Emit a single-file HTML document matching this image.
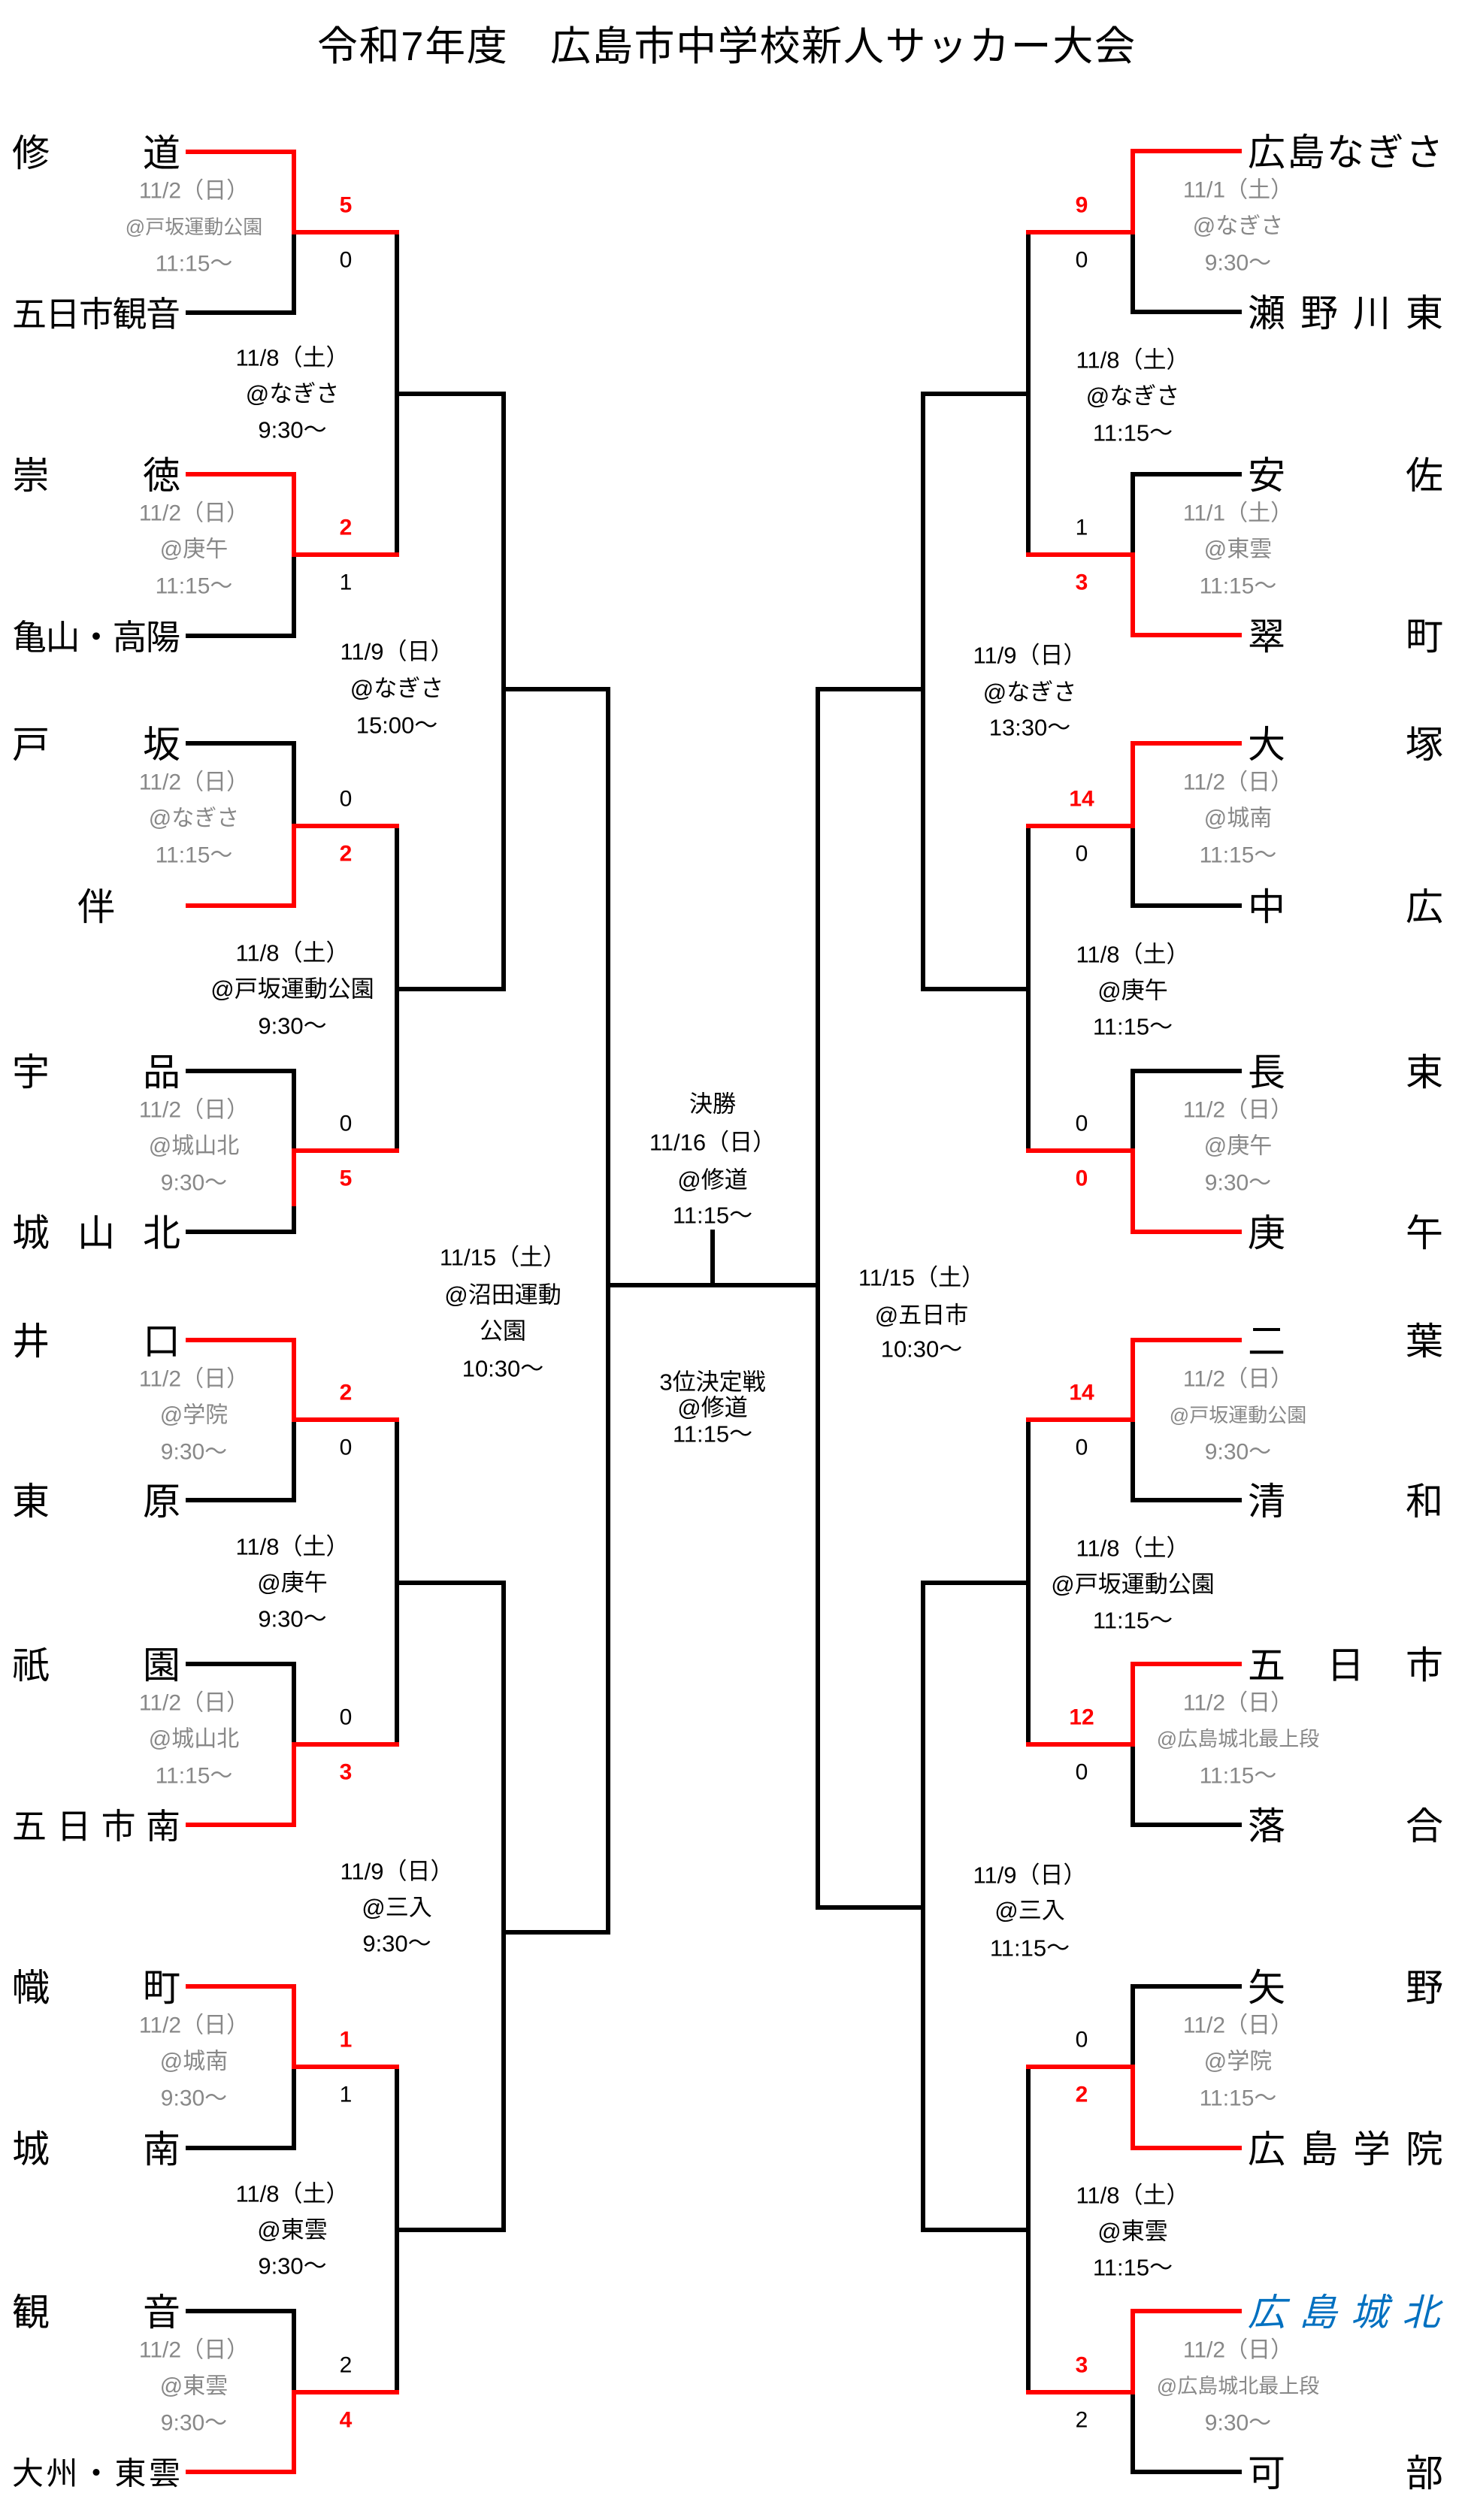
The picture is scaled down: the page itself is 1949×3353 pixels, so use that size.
<!DOCTYPE html>
<html><head><meta charset="utf-8"><style>
html,body{margin:0;padding:0;background:#fff;}
svg{display:block;}
text{font-family:"Liberation Sans","Noto Sans CJK JP",sans-serif;}
.nm{font-size:50px;fill:#000;}
.gr{font-size:30px;fill:#888;text-anchor:middle;}
.lb{font-size:31px;fill:#000;text-anchor:middle;}
.sc{font-size:30px;fill:#000;text-anchor:middle;}
.sr{font-size:30px;fill:#f00;font-weight:bold;text-anchor:middle;}
.k{stroke:#000;stroke-width:6;fill:none;stroke-linecap:square;}
.r{stroke:#f00;stroke-width:6;fill:none;stroke-linecap:square;}
</style></head><body>
<svg width="1949" height="3353" viewBox="0 0 1949 3353" xmlns="http://www.w3.org/2000/svg">
<text x="966" y="62" dominant-baseline="central" text-anchor="middle" font-size="54" textLength="1088" lengthAdjust="spacing">令和7年度　広島市中学校新人サッカー大会</text>

<g class="k">
<path d="M250 202H391V416H250M391 309H528"/>
<path d="M250 631H391V846H250M391 738H528"/>
<path d="M250 989H391V1205H250M391 1099H528"/>
<path d="M250 1425H391V1639H250M391 1531H528"/>
<path d="M250 1783H391V1996H250M391 1889H528"/>
<path d="M250 2214H391V2428H250M391 2321H528"/>
<path d="M250 2643H391V2858H250M391 2750H528"/>
<path d="M250 3075H391V3289H250M391 3183H528"/>
<path d="M528 309V738M528 524H670"/>
<path d="M528 1099V1531M528 1316H670"/>
<path d="M528 1889V2321M528 2106H670"/>
<path d="M528 2750V3183M528 2967H670"/>
<path d="M670 524V1316M670 917H809"/>
<path d="M670 2106V2967M670 2571H809"/>
<path d="M809 917V2571M809 1710H1088M948 1639V1710"/>
<path d="M1088 917V2538"/>
<path d="M1088 917H1228M1088 2538H1228"/>
<path d="M1228 524V1316M1228 2106V2967"/>
<path d="M1228 524H1368M1228 1316H1368M1228 2106H1368M1228 2967H1368"/>
<path d="M1368 309V738M1368 1099V1531M1368 1889V2321M1368 2750V3183"/>
<path d="M1649 201H1507V415H1649M1507 309H1368"/>
<path d="M1649 631H1507V845H1649M1507 738H1368"/>
<path d="M1649 989H1507V1205H1649M1507 1099H1368"/>
<path d="M1649 1425H1507V1639H1649M1507 1531H1368"/>
<path d="M1649 1783H1507V1996H1649M1507 1889H1368"/>
<path d="M1649 2214H1507V2428H1649M1507 2321H1368"/>
<path d="M1649 2643H1507V2858H1649M1507 2750H1368"/>
<path d="M1649 3075H1507V3289H1649M1507 3183H1368"/>
</g>
<g class="r">
<path d="M250 202H391V309H528"/>
<path d="M250 631H391V738H528"/>
<path d="M250 1205H391V1099H528"/>
<path d="M391 1602V1531H528"/>
<path d="M250 1783H391V1889H528"/>
<path d="M250 2428H391V2321H528"/>
<path d="M250 2643H391V2750H528"/>
<path d="M250 3289H391V3183H528"/>
<path d="M1649 201H1507V309H1368"/>
<path d="M1649 845H1507V738H1368"/>
<path d="M1649 989H1507V1099H1368"/>
<path d="M1649 1639H1507V1531H1368"/>
<path d="M1649 1783H1507V1889H1368"/>
<path d="M1649 2214H1507V2321H1368"/>
<path d="M1649 2858H1507V2750H1368"/>
<path d="M1649 3075H1507V3183H1368"/>
</g>

<g class="nm" dominant-baseline="central">
<text x="16" y="204" textLength="224" lengthAdjust="spacing">修道</text>
<text x="16" y="418" font-size="46" textLength="224" lengthAdjust="spacing">五日市観音</text>
<text x="16" y="633" textLength="224" lengthAdjust="spacing">崇徳</text>
<text x="16" y="848" font-size="46" textLength="224" lengthAdjust="spacing">亀山・高陽</text>
<text x="16" y="991" textLength="224" lengthAdjust="spacing">戸坂</text>
<text x="103" y="1207">伴</text>
<text x="16" y="1427" textLength="224" lengthAdjust="spacing">宇品</text>
<text x="16" y="1641" textLength="224" lengthAdjust="spacing">城山北</text>
<text x="16" y="1785" textLength="224" lengthAdjust="spacing">井口</text>
<text x="16" y="1998" textLength="224" lengthAdjust="spacing">東原</text>
<text x="16" y="2216" textLength="224" lengthAdjust="spacing">祇園</text>
<text x="16" y="2430" font-size="46" textLength="224" lengthAdjust="spacing">五日市南</text>
<text x="16" y="2645" textLength="224" lengthAdjust="spacing">幟町</text>
<text x="16" y="2860" textLength="224" lengthAdjust="spacing">城南</text>
<text x="16" y="3077" textLength="224" lengthAdjust="spacing">観音</text>
<text x="16" y="3291" font-size="42" textLength="224" lengthAdjust="spacing">大州・東雲</text>
<text x="1660" y="203" textLength="260" lengthAdjust="spacing">広島なぎさ</text>
<text x="1660" y="417" textLength="260" lengthAdjust="spacing">瀬野川東</text>
<text x="1660" y="633" textLength="260" lengthAdjust="spacing">安佐</text>
<text x="1660" y="847" textLength="260" lengthAdjust="spacing">翠町</text>
<text x="1660" y="991" textLength="260" lengthAdjust="spacing">大塚</text>
<text x="1660" y="1207" textLength="260" lengthAdjust="spacing">中広</text>
<text x="1660" y="1427" textLength="260" lengthAdjust="spacing">長束</text>
<text x="1660" y="1641" textLength="260" lengthAdjust="spacing">庚午</text>
<text x="1660" y="1785" textLength="260" lengthAdjust="spacing">二葉</text>
<text x="1660" y="1998" textLength="260" lengthAdjust="spacing">清和</text>
<text x="1660" y="2216" textLength="260" lengthAdjust="spacing">五日市</text>
<text x="1660" y="2430" textLength="260" lengthAdjust="spacing">落合</text>
<text x="1660" y="2645" textLength="260" lengthAdjust="spacing">矢野</text>
<text x="1660" y="2860" textLength="260" lengthAdjust="spacing">広島学院</text>
<text x="1660" y="3077" textLength="255" lengthAdjust="spacing" fill="#0070C0" font-style="italic">広島城北</text>
<text x="1660" y="3291" textLength="260" lengthAdjust="spacing">可部</text>
</g>

<g class="gr" dominant-baseline="central">
<text x="258" y="254">11/2（日）</text><text x="258" y="302" font-size="26">@戸坂運動公園</text><text x="258" y="351">11:15〜</text>
<text x="258" y="683">11/2（日）</text><text x="258" y="731">@庚午</text><text x="258" y="780">11:15〜</text>
<text x="258" y="1041">11/2（日）</text><text x="258" y="1089">@なぎさ</text><text x="258" y="1138">11:15〜</text>
<text x="258" y="1477">11/2（日）</text><text x="258" y="1525">@城山北</text><text x="258" y="1574">9:30〜</text>
<text x="258" y="1835">11/2（日）</text><text x="258" y="1883">@学院</text><text x="258" y="1932">9:30〜</text>
<text x="258" y="2266">11/2（日）</text><text x="258" y="2314">@城山北</text><text x="258" y="2363">11:15〜</text>
<text x="258" y="2695">11/2（日）</text><text x="258" y="2743">@城南</text><text x="258" y="2792">9:30〜</text>
<text x="258" y="3127">11/2（日）</text><text x="258" y="3175">@東雲</text><text x="258" y="3224">9:30〜</text>

<text x="1647" y="253">11/1（土）</text><text x="1647" y="301">@なぎさ</text><text x="1647" y="350">9:30〜</text>
<text x="1647" y="683">11/1（土）</text><text x="1647" y="731">@東雲</text><text x="1647" y="780">11:15〜</text>
<text x="1647" y="1041">11/2（日）</text><text x="1647" y="1089">@城南</text><text x="1647" y="1138">11:15〜</text>
<text x="1647" y="1477">11/2（日）</text><text x="1647" y="1525">@庚午</text><text x="1647" y="1574">9:30〜</text>
<text x="1647" y="1835">11/2（日）</text><text x="1647" y="1883" font-size="26">@戸坂運動公園</text><text x="1647" y="1932">9:30〜</text>
<text x="1647" y="2266">11/2（日）</text><text x="1647" y="2314" font-size="27">@広島城北最上段</text><text x="1647" y="2363">11:15〜</text>
<text x="1647" y="2695">11/2（日）</text><text x="1647" y="2743">@学院</text><text x="1647" y="2792">11:15〜</text>
<text x="1647" y="3127">11/2（日）</text><text x="1647" y="3175" font-size="27">@広島城北最上段</text><text x="1647" y="3224">9:30〜</text>
</g>

<g dominant-baseline="central">
<text class="sr" x="460" y="273">5</text><text class="sc" x="460" y="346">0</text>
<text class="sr" x="460" y="702">2</text><text class="sc" x="460" y="775">1</text>
<text class="sc" x="460" y="1063">0</text><text class="sr" x="460" y="1136">2</text>
<text class="sc" x="460" y="1495">0</text><text class="sr" x="460" y="1568" font-weight="normal">5</text>
<text class="sr" x="460" y="1853">2</text><text class="sc" x="460" y="1926">0</text>
<text class="sc" x="460" y="2285">0</text><text class="sr" x="460" y="2358">3</text>
<text class="sr" x="460" y="2714">1</text><text class="sc" x="460" y="2787">1</text>
<text class="sc" x="460" y="3147">2</text><text class="sr" x="460" y="3220">4</text>

<text class="sr" x="1439" y="273">9</text><text class="sc" x="1439" y="346">0</text>
<text class="sc" x="1439" y="702">1</text><text class="sr" x="1439" y="775">3</text>
<text class="sr" x="1439" y="1063">14</text><text class="sc" x="1439" y="1136">0</text>
<text class="sc" x="1439" y="1495">0</text><text class="sr" x="1439" y="1568">0</text>
<text class="sr" x="1439" y="1853">14</text><text class="sc" x="1439" y="1926">0</text>
<text class="sr" x="1439" y="2285">12</text><text class="sc" x="1439" y="2358">0</text>
<text class="sc" x="1439" y="2714">0</text><text class="sr" x="1439" y="2787">2</text>
<text class="sr" x="1439" y="3147">3</text><text class="sc" x="1439" y="3220">2</text>
</g>

<g class="lb" dominant-baseline="central">
<text x="389" y="476">11/8（土）</text><text x="389" y="524">@なぎさ</text><text x="389" y="572">9:30〜</text>
<text x="389" y="1268">11/8（土）</text><text x="389" y="1316">@戸坂運動公園</text><text x="389" y="1365">9:30〜</text>
<text x="389" y="2058">11/8（土）</text><text x="389" y="2106">@庚午</text><text x="389" y="2154">9:30〜</text>
<text x="389" y="2919">11/8（土）</text><text x="389" y="2967">@東雲</text><text x="389" y="3015">9:30〜</text>
<text x="528" y="867">11/9（日）</text><text x="528" y="916">@なぎさ</text><text x="528" y="965">15:00〜</text>
<text x="528" y="2490">11/9（日）</text><text x="528" y="2538">@三入</text><text x="528" y="2586">9:30〜</text>

<text x="1507" y="479">11/8（土）</text><text x="1507" y="527">@なぎさ</text><text x="1507" y="576">11:15〜</text>
<text x="1507" y="1270">11/8（土）</text><text x="1507" y="1318">@庚午</text><text x="1507" y="1366">11:15〜</text>
<text x="1507" y="2060">11/8（土）</text><text x="1507" y="2108">@戸坂運動公園</text><text x="1507" y="2156">11:15〜</text>
<text x="1507" y="2921">11/8（土）</text><text x="1507" y="2969">@東雲</text><text x="1507" y="3017">11:15〜</text>
<text x="1370" y="872">11/9（日）</text><text x="1370" y="921">@なぎさ</text><text x="1370" y="968">13:30〜</text>
<text x="1370" y="2495">11/9（日）</text><text x="1370" y="2542">@三入</text><text x="1370" y="2592">11:15〜</text>

<text x="669" y="1673">11/15（土）</text><text x="669" y="1723">@沼田運動</text><text x="669" y="1771">公園</text><text x="669" y="1821">10:30〜</text>
<text x="1226" y="1700">11/15（土）</text><text x="1226" y="1750">@五日市</text><text x="1226" y="1795">10:30〜</text>

<text x="948" y="1469">決勝</text><text x="948" y="1520">11/16（日）</text><text x="948" y="1570">@修道</text><text x="948" y="1617">11:15〜</text>
<text x="948" y="1839">3位決定戦</text><text x="948" y="1873">@修道</text><text x="948" y="1908">11:15〜</text>
</g>
</svg>
</body></html>
